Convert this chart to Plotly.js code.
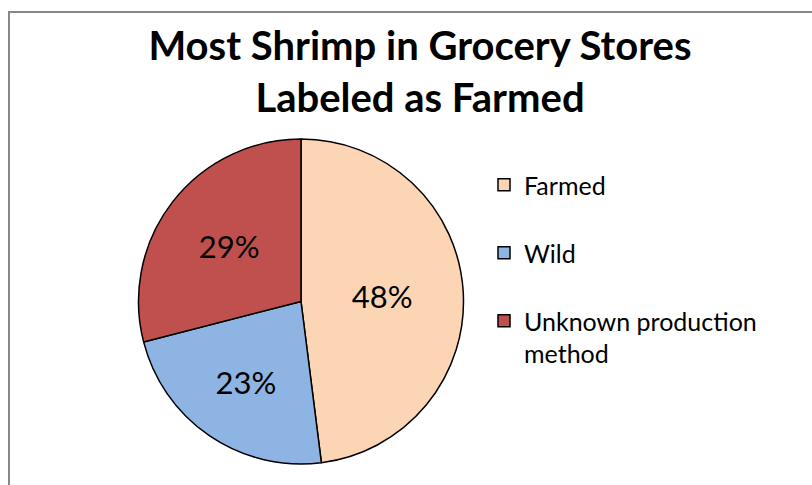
<!DOCTYPE html>
<html>
<head>
<meta charset="utf-8">
<script src="https://cdn.plot.ly/plotly-3.0.1.min.js"></script>
<style>
  html, body { margin: 0; padding: 0; overflow: hidden; background: #fff; }
  #chart { position: absolute; left: 0; top: 0; width: 812px; height: 485px; }
  #frame { position: absolute; left: 8px; top: 11px; width: 900px; height: 600px;
           border: 2px solid #878787; pointer-events: none; }
</style>
</head>
<body>
<div id="chart"></div>
<div id="frame"></div>
<script>
const titleText = 'Most Shrimp in Grocery Stores<br>Labeled as Farmed';
const categories = ['Farmed', 'Wild', 'Unknown production method'];
const shares = [48, 23, 29];
const sliceColors = ['#FCD5B5', '#8EB4E3', '#C0504D'];

const legendLabels = ['Farmed<br> ', 'Wild<br> ', 'Unknown production<br>method'];

const trace = {
  type: 'pie',
  labels: legendLabels,
  values: shares,
  customdata: categories,
  sort: false,
  direction: 'clockwise',
  rotation: 0,
  marker: { colors: sliceColors, line: { color: '#000000', width: 1.5 } },
  textinfo: 'percent',
  texttemplate: '%{percent:.0%}',
  textposition: 'inside',
  insidetextorientation: 'horizontal',
  insidetextfont: { family: 'Lato, sans-serif', size: 31, color: '#000000' },
  hoverinfo: 'label+percent',
  domain: { x: [(301 - 162.5) / 812, (301 + 162.5) / 812], y: [1 - 464 / 485, 1 - 139 / 485] }
};

const layout = {
  width: 812, height: 485,
  margin: { l: 0, r: 0, t: 0, b: 0 },
  paper_bgcolor: 'rgba(0,0,0,0)',
  font: { family: 'Lato, sans-serif', color: '#000000' },
  title: {
    text: titleText,
    font: { family: 'Lato, sans-serif', size: 40, color: '#000000', weight: 'bold' },
    x: 420 / 812, xanchor: 'center', xref: 'paper',
    y: 1 - 60 / 485, yanchor: 'middle', yref: 'container'
  },
  showlegend: true,
  legend: {
    x: 484 / 812, xanchor: 'left', y: 1 - 162 / 485, yanchor: 'top',
    valign: 'top', traceorder: 'normal',
    font: { family: 'Lato, sans-serif', size: 25, color: '#000000' },
    bgcolor: 'rgba(0,0,0,0)'
  }
};

Plotly.newPlot('chart', [trace], layout, { displayModeBar: false, staticPlot: true });
</script>
</body>
</html>
